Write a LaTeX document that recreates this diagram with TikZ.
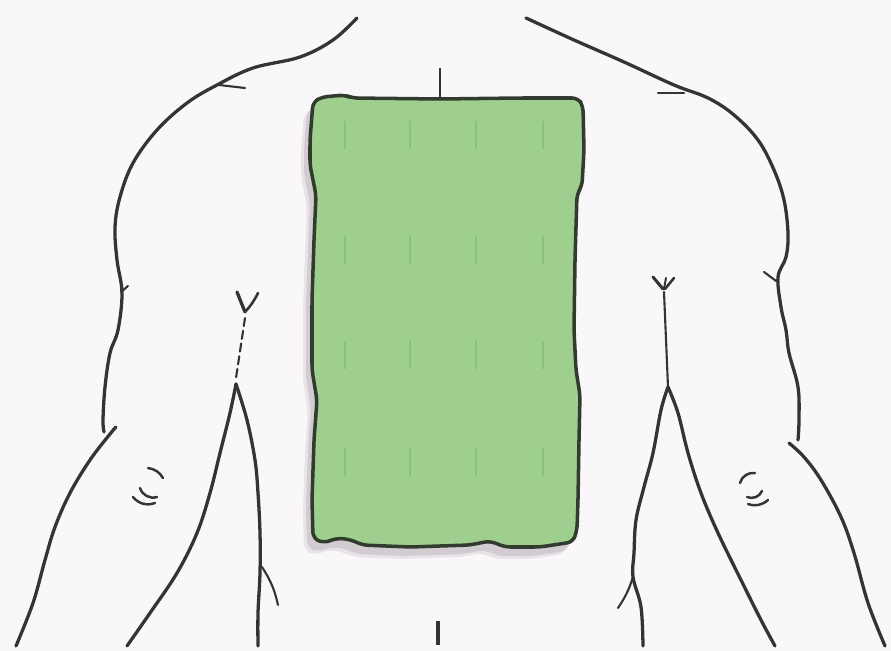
\documentclass[tikz,border=0pt]{standalone}
\usetikzlibrary{calc}

\definecolor{paper}{RGB}{250,247,250}
\definecolor{ink}{RGB}{52,52,52}
\definecolor{padgreen}{RGB}{158,207,142}
\definecolor{padedge}{RGB}{50,60,46}
\definecolor{padmark}{RGB}{122,182,112}
\definecolor{padshade}{RGB}{196,190,196}

% outline of the pad, pixel units
\newcommand{\padoutline}{(322,97) -- (345,95) -- (352,98) -- (440,99) -- (520,98) -- (578,98)
  -- (583,106) -- (584,150) -- (582,186) -- (577,194) -- (575,260) -- (574,330) -- (576,370)
  -- (580,395) -- (579,440) -- (578,500) -- (577,530) -- (573,542) -- (540,547) -- (505,547)
  -- (490,541) -- (470,545) -- (410,547) -- (362,545) -- (352,540) -- (338,538) -- (323,543)
  -- (313,538) -- (312,500) -- (314,440) -- (317,400) -- (312,370) -- (312,300) -- (314,240)
  -- (316,195) -- (310,165) -- (310,140) -- (313,102) -- cycle}

\begin{document}
\begin{tikzpicture}[x=0.03cm, y=-0.03cm,
  body/.style={draw=ink, line width=2.8pt, line cap=round, line join=round},
  thin body/.style={draw=ink, line width=1.8pt, line cap=round},
  fold/.style={draw=ink, line width=2.1pt, line cap=round}]

\useasboundingbox (0,0) rectangle (891,651);
\fill[paper] (0,0) rectangle (891,651);

% soft shadow under the pad
\fill[padshade, opacity=0.35, rounded corners=6pt, shift={(-9,12)}] \padoutline;
\fill[padshade, opacity=0.6, rounded corners=6pt, shift={(-6,9)}] \padoutline;

% the pad
\filldraw[fill=padgreen, draw=padedge, line width=3pt, rounded corners=5pt] \padoutline;
\foreach \y in {135,250,355,462}
  \foreach \x in {345,410,476,543}
    \draw[padmark, line width=1.2pt, opacity=0.6] (\x,\y-14) -- (\x,\y+14);

% midline ticks
\draw[ink, line width=2pt] (440,68) -- (440,99);
\draw[ink, line width=3pt] (438,621) -- (438,645);

% left shoulder and upper arm
\draw[body] plot[smooth, tension=0.6] coordinates {(357,18) (333,40) (300,57) (253,68) (217,85)
  (187,103) (157,130) (133,163) (120,197) (115,227) (117,260) (122,293) (118,330) (110,353)
  (105,387) (103,420) (104,432)};
\draw[thin body] (219,85) -- (245,88);
\draw[thin body] (121,292) -- (128,286);
% left forearm
\draw[body] plot[smooth, tension=0.6] coordinates {(116,427) (110,434) (90,460) (70,493)
  (55,527) (45,560) (33,603) (16,646)};
\draw[body] plot[smooth, tension=0.6] coordinates {(127,646) (150,613) (177,573) (197,533)
  (210,493) (220,453) (230,413) (236,384)};
% left flank
\draw[body] plot[smooth, tension=0.6] coordinates {(236,384) (247,420) (255,460) (258,493)
  (260,533) (260,573) (258,613) (258,646)};
\draw[thin body] (262,567) to[bend left=10] (278,605);
\draw[thin body, dash pattern=on 7pt off 4pt] (245,318) -- (236,378);
\draw[body, line width=2.8pt] (237,292) -- (245,312);
\draw[body, line width=2.2pt] (258,293) to[bend left=8] (245,312);

% right shoulder and upper arm
\draw[body] plot[smooth, tension=0.6] coordinates {(526,18) (574,40) (624,62) (674,85)
  (708,98) (734,115) (758,140) (774,170) (784,200) (788,233) (786,257) (778,277) (781,307)
  (786,330) (789,353) (798,387) (799,420) (798,440)};
\draw[thin body] (658,93) -- (684,93);
\draw[thin body] (764,272) -- (776,281);
% right forearm
\draw[body] plot[smooth, tension=0.6] coordinates {(789,443) (804,457) (821,480) (841,517)
  (854,553) (868,603) (885,646)};
\draw[body] plot[smooth, tension=0.6] coordinates {(668,387) (678,413) (688,453) (701,493)
  (718,533) (741,580) (761,620) (775,646)};
% right flank
\draw[body] plot[smooth, tension=0.6] coordinates {(668,387) (661,410) (653,453) (644,487)
  (636,520) (634,553) (633,577) (641,607) (643,646)};
\draw[thin body] (633,577) to[bend left=8] (618,608);
\draw[thin body] (664,292) -- (668,387);
\draw[body, line width=2.6pt] (653,277) -- (663,289);
\draw[body, line width=1.7pt] (666,278) -- (664,289);
\draw[body, line width=2.2pt] (674,278) -- (665,289);

% elbow creases
\draw[fold] (148,468) to[bend left=25] (163,478);
\draw[fold] (140,488) to[bend right=45] (157,497);
\draw[fold] (133,497) to[bend right=35] (155,503);
\draw[fold] (755,473) to[bend right=40] (740,483);
\draw[fold] (762,491) to[bend left=45] (747,497);
\draw[fold] (768,500) to[bend left=30] (748,504);

\end{tikzpicture}
\end{document}
